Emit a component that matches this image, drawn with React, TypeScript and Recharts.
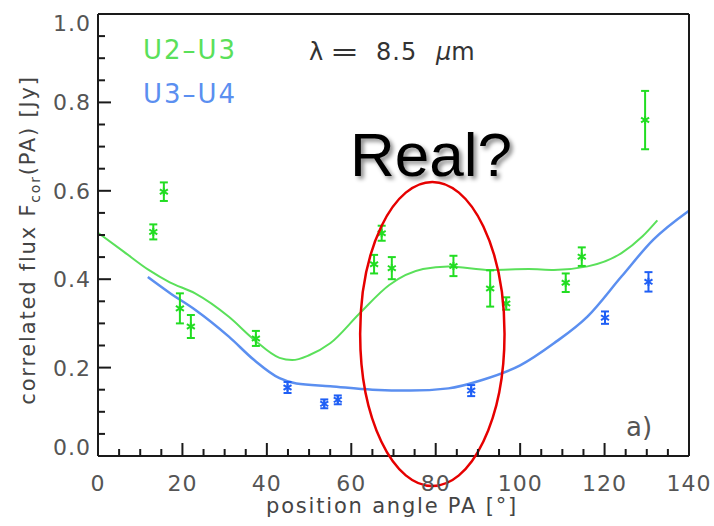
import React from "react";
import {
  ComposedChart,
  Line,
  Scatter,
  ErrorBar,
  XAxis,
  YAxis,
  ReferenceDot,
} from "recharts";

// measured points, U2-U3 baseline
const greenPA = [13.1, 15.6, 19.4, 22.0, 37.4, 65.4, 67.2, 69.6, 84.2, 92.9, 96.7, 110.8, 114.6, 129.6];
const greenFlux = [0.507, 0.598, 0.334, 0.293, 0.266, 0.434, 0.504, 0.425, 0.43, 0.379, 0.345, 0.392, 0.451, 0.76];
const greenErr = [0.017, 0.021, 0.034, 0.026, 0.017, 0.021, 0.017, 0.025, 0.023, 0.041, 0.014, 0.021, 0.021, 0.066];

// measured points, U3-U4 baseline
const bluePA = [44.9, 53.6, 56.8, 88.4, 120.1, 130.4];
const blueFlux = [0.155, 0.118, 0.127, 0.148, 0.313, 0.394];
const blueErr = [0.0125, 0.01, 0.01, 0.0125, 0.014, 0.022];

// model curves
const greenCurvePA = [0, 6, 12, 17, 23, 31, 37, 43, 46, 50, 55, 62, 69, 77, 83, 93, 102, 108, 116, 124, 129, 132.5];
const greenCurveFlux = [0.505, 0.463, 0.421, 0.393, 0.368, 0.315, 0.263, 0.222, 0.217, 0.228, 0.255, 0.323, 0.387, 0.423, 0.429, 0.421, 0.423, 0.421, 0.429, 0.459, 0.497, 0.533];
const blueCurvePA = [11.8, 17, 23, 31, 37, 43, 47, 55, 65, 74, 83, 91, 100, 108, 116, 124, 131.5, 140];
const blueCurveFlux = [0.405, 0.369, 0.331, 0.27, 0.217, 0.176, 0.164, 0.158, 0.15, 0.148, 0.153, 0.172, 0.205, 0.255, 0.316, 0.406, 0.489, 0.555];

const xTicks = Array.from({ length: 29 }, (_, i) => i * 5);
const yTicks = Array.from({ length: 21 }, (_, i) => Math.round(i * 5) / 100);

const W = 714;
const H = 526;
const margin = { top: 13, right: 24, bottom: 69, left: 97 };
// plot box (axes take 1px each)
const plotLeft = margin.left + 1;
const plotTop = margin.top + 1;
const plotW = W - plotLeft - margin.right - 1;
const plotH = H - plotTop - margin.bottom - 1;

const AXIS = "#1a1a1a";
const LABEL = "#555";
const GREEN = "#22dd22";
const GREEN_LINE = "#5ae05a";
const BLUE = "#1f5ff5";
const BLUE_LINE = "#5b8ff0";
const FONT = "DejaVu Sans, sans-serif";

const toPoints = (xs: number[], ys: number[], errs?: number[]) =>
  xs.map((x, i) => ({ x, y: ys[i], err: errs ? errs[i] : 0 }));

const greenPts = toPoints(greenPA, greenFlux, greenErr);
const bluePts = toPoints(bluePA, blueFlux, blueErr);
const greenCurve = toPoints(greenCurvePA, greenCurveFlux);
const blueCurve = toPoints(blueCurvePA, blueCurveFlux);

const isMajorX = (v: number) => v % 20 === 0;
const isMajorY = (v: number) => Math.round(v * 100) % 20 === 0;

const BottomTick = ({ x, y, payload }: any) => {
  const major = isMajorX(payload.value);
  return (
    <g>
      <line x1={x} x2={x} y1={y} y2={y - (major ? 13 : 7)} stroke={AXIS} strokeWidth={2} />
      {major && (
        <text x={x} y={y + 35} textAnchor="middle" fill={LABEL} fontSize={22} fontFamily={FONT} letterSpacing={1}>
          {payload.value}
        </text>
      )}
    </g>
  );
};

const TopTick = ({ x, y, payload }: any) => {
  const major = isMajorX(payload.value);
  return <line x1={x} x2={x} y1={y} y2={y + (major ? 13 : 7)} stroke={AXIS} strokeWidth={2} />;
};

const LeftTick = ({ x, y, payload }: any) => {
  const major = isMajorY(payload.value);
  const cy = Math.min(Math.max(y, plotTop + 9), plotTop + plotH - 9);
  return (
    <g>
      <line x1={x} x2={x + (major ? 13 : 7)} y1={y} y2={y} stroke={AXIS} strokeWidth={2} />
      {major && (
        <text x={x - 7} y={cy + 8} textAnchor="end" fill={LABEL} fontSize={22} fontFamily={FONT} letterSpacing={1}>
          {payload.value.toFixed(1)}
        </text>
      )}
    </g>
  );
};

const RightTick = ({ x, y, payload }: any) => {
  const major = isMajorY(payload.value);
  return <line x1={x} x2={x - (major ? 13 : 7)} y1={y} y2={y} stroke={AXIS} strokeWidth={2} />;
};

const Asterisk = (color: string) => (props: any) => {
  const { cx, cy } = props;
  const r = 4;
  return (
    <g stroke={color} strokeWidth={2}>
      <line x1={cx} x2={cx} y1={cy - r} y2={cy + r} />
      <line x1={cx - r} x2={cx + r} y1={cy - r * 0.6} y2={cy + r * 0.6} />
      <line x1={cx - r} x2={cx + r} y1={cy + r * 0.6} y2={cy - r * 0.6} />
    </g>
  );
};

// "Real?" ellipse, in data units
const ellipseCenter = { pa: 79.2, flux: 0.276 };
const ellipseHalf = { pa: 17.1, flux: 0.344 };

const Ellipse = (props: any) => (
  <ellipse
    cx={props.cx}
    cy={props.cy}
    rx={(ellipseHalf.pa / 140) * plotW}
    ry={ellipseHalf.flux * plotH}
    fill="none"
    stroke="#e60000"
    strokeWidth={2.5}
  />
);

const axisLine = { stroke: AXIS, strokeWidth: 2 };

export default function App() {
  return (
    <div style={{ position: "absolute", left: 0, top: 0, width: W, height: H, background: "#fff" }}>
      <ComposedChart width={W} height={H} margin={margin}>
        <XAxis
          xAxisId={0}
          dataKey="x"
          type="number"
          domain={[0, 140]}
          ticks={xTicks}
          interval={0}
          height={1}
          tickSize={0}
          tickMargin={0}
          tickLine={false}
          tick={<BottomTick />}
          axisLine={axisLine}
        />
        <XAxis
          xAxisId="top"
          orientation="top"
          type="number"
          domain={[0, 140]}
          ticks={xTicks}
          interval={0}
          height={1}
          tickSize={0}
          tickMargin={0}
          tickLine={false}
          tick={<TopTick />}
          axisLine={axisLine}
        />
        <YAxis
          yAxisId={0}
          dataKey="y"
          type="number"
          domain={[0, 1]}
          ticks={yTicks}
          interval={0}
          width={1}
          tickSize={0}
          tickMargin={0}
          tickLine={false}
          tick={<LeftTick />}
          axisLine={axisLine}
        />
        <YAxis
          yAxisId="right"
          orientation="right"
          type="number"
          domain={[0, 1]}
          ticks={yTicks}
          interval={0}
          width={1}
          tickSize={0}
          tickMargin={0}
          tickLine={false}
          tick={<RightTick />}
          axisLine={axisLine}
        />
        <Line
          data={greenCurve}
          dataKey="y"
          type="monotone"
          stroke={GREEN_LINE}
          strokeWidth={2}
          dot={false}
          isAnimationActive={false}
        />
        <Line
          data={blueCurve}
          dataKey="y"
          type="monotone"
          stroke={BLUE_LINE}
          strokeWidth={2.5}
          dot={false}
          isAnimationActive={false}
        />
        <Scatter data={greenPts} dataKey="y" shape={Asterisk(GREEN)} isAnimationActive={false}>
          <ErrorBar dataKey="err" direction="y" width={4} stroke={GREEN} strokeWidth={2} isAnimationActive={false} />
        </Scatter>
        <Scatter data={bluePts} dataKey="y" shape={Asterisk(BLUE)} isAnimationActive={false}>
          <ErrorBar dataKey="err" direction="y" width={4} stroke={BLUE} strokeWidth={2} isAnimationActive={false} />
        </Scatter>
        <ReferenceDot x={ellipseCenter.pa} y={ellipseCenter.flux} ifOverflow="visible" shape={Ellipse} />
      </ComposedChart>
      <svg
        width={W}
        height={H}
        style={{ position: "absolute", left: 0, top: 0, pointerEvents: "none" }}
      >
        <defs>
          <filter id="shadow" x="-10%" y="-20%" width="130%" height="150%">
            <feDropShadow dx="3" dy="3" stdDeviation="2" floodColor="#000" floodOpacity="0.45" />
          </filter>
        </defs>
        <text x={143} y={59} fill={GREEN_LINE} fontSize={26} fontFamily={FONT} letterSpacing={2}>
          U2–U3
        </text>
        <text x={143} y={103} fill={BLUE_LINE} fontSize={26} fontFamily={FONT} letterSpacing={2}>
          U3–U4
        </text>
        <g fill="#333" fontSize={24} fontFamily={FONT}>
          <text x={309} y={60}>λ</text>
          <text x={330} y={60} textLength={29} lengthAdjust="spacingAndGlyphs">=</text>
          <text x={376} y={60} letterSpacing={1}>8.5</text>
          <text x={436} y={60}>
            <tspan fontStyle="italic">μ</tspan>m
          </text>
        </g>
        <text x={626} y={436} fill={LABEL} fontSize={26} fontFamily={FONT}>
          a)
        </text>
        <text
          x={350}
          y={176}
          fill="#000"
          fontSize={62}
          fontFamily="Liberation Sans, Arial, sans-serif"
          filter="url(#shadow)"
        >
          Real?
        </text>
        <text x={392} y={513} textAnchor="middle" fill="#444" fontSize={21} fontFamily={FONT} letterSpacing={1.8}>
          position angle PA [°]
        </text>
        <text
          transform="translate(35 240) rotate(-90)"
          textAnchor="middle"
          fill="#444"
          fontSize={21}
          fontFamily={FONT}
          letterSpacing={1.8}
        >
          correlated flux F
          <tspan fontSize={14} dy={5}>cor</tspan>
          <tspan dy={-5}>(PA) [Jy]</tspan>
        </text>
      </svg>
    </div>
  );
}
